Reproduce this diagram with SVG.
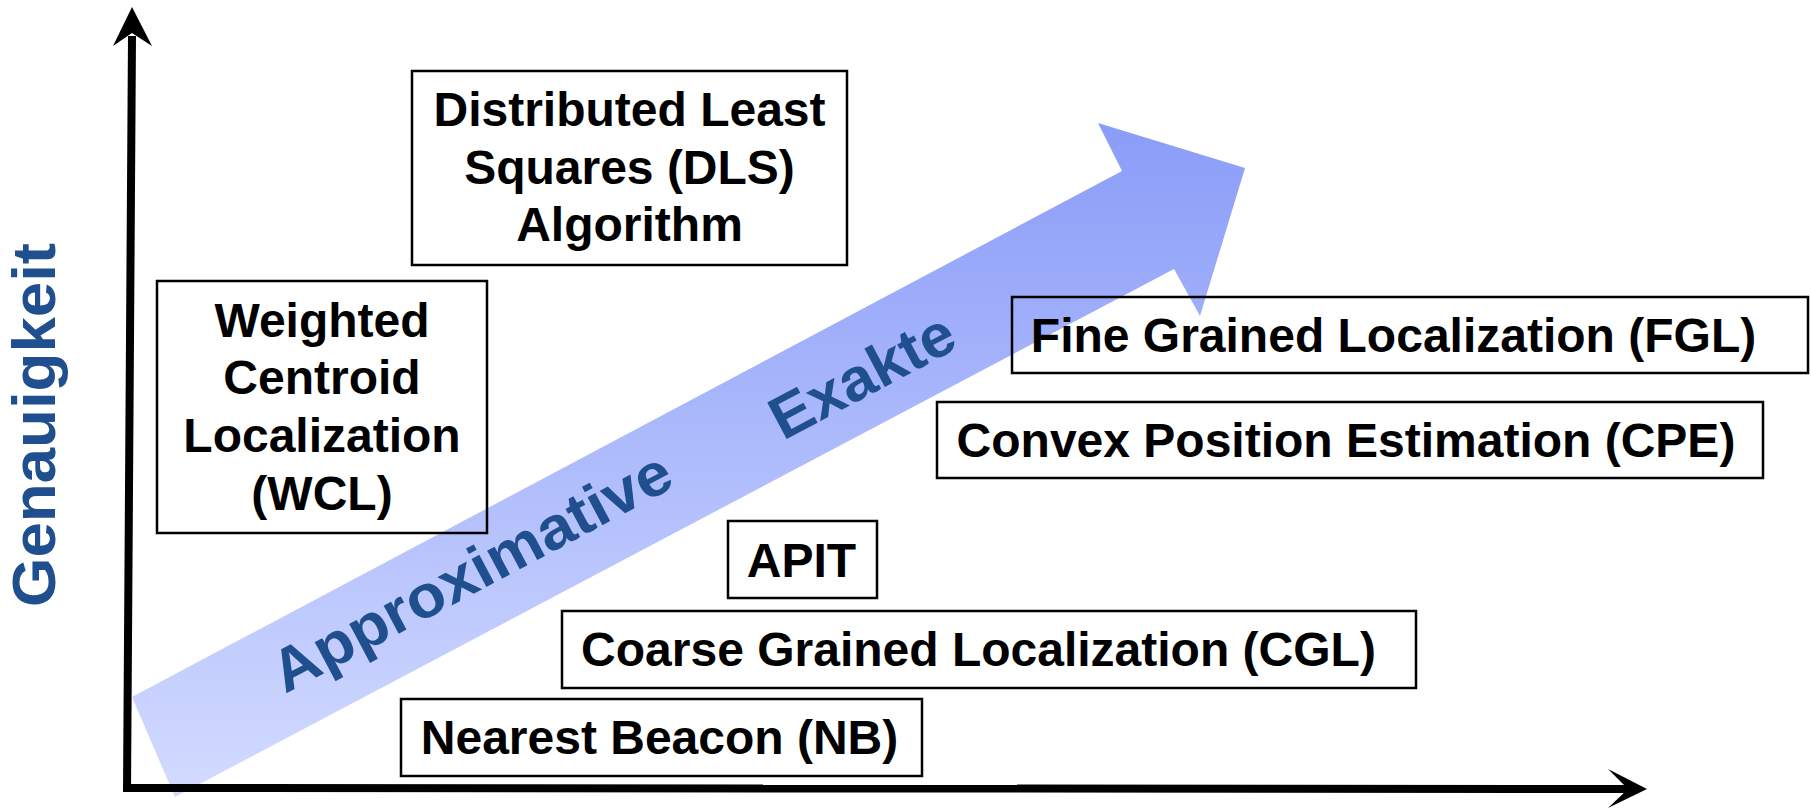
<svg xmlns="http://www.w3.org/2000/svg" width="1811" height="809" viewBox="0 0 1811 809">
  <defs>
    <linearGradient id="arrowGrad" gradientUnits="userSpaceOnUse" x1="0" y1="123" x2="0" y2="797">
      <stop offset="0" stop-color="#8a9cf8"/>
      <stop offset="1" stop-color="#d3dbff"/>
    </linearGradient>
    <style>
      .box { fill: none; stroke: #000; stroke-width: 2.5; }
      .lbl { font-family: "Liberation Sans", Arial, sans-serif; font-weight: bold; font-size: 48px; fill: #000; text-anchor: middle; }
      .blue { font-family: "Liberation Sans", Arial, sans-serif; font-weight: bold; font-size: 60px; fill: #1f4f8f; }
      .axis { stroke: #000; stroke-width: 8; fill: none; }
    </style>
  </defs>
  <rect width="1811" height="809" fill="#fff"/>

  <!-- big gradient arrow -->
  <g id="trend-arrow">
    <polygon points="132,697 1122,171 1098,123 1245,168 1200,316 1174,269 175,797" fill="url(#arrowGrad)"/>
    <text class="blue" transform="translate(285,694) rotate(-28)" textLength="444" lengthAdjust="spacingAndGlyphs">Approximative</text>
    <text class="blue" transform="translate(783,441) rotate(-28)" textLength="201" lengthAdjust="spacingAndGlyphs">Exakte</text>
  </g>

  <!-- axes -->
  <g id="connectors">
    <line class="axis" x1="127" y1="792" x2="132" y2="36"/>
    <polygon points="132,7 152,46 132,33 113,46" fill="#000"/>
    <line class="axis" x1="123" y1="788" x2="1630" y2="789"/>
    <polygon points="1647,789 1608,808 1628,789 1608,769" fill="#000"/>
  </g>

  <g id="y-label">
    <text class="blue" style="font-size:62px" transform="translate(55,425) rotate(-90)" text-anchor="middle" textLength="364" lengthAdjust="spacingAndGlyphs">Genauigkeit</text>
  </g>

  <g id="dls">
    <rect class="box" x="412" y="71" width="435" height="194"/>
    <text class="lbl" x="629.5" y="126">Distributed Least</text>
    <text class="lbl" x="629.5" y="184">Squares (DLS)</text>
    <text class="lbl" x="629.5" y="241">Algorithm</text>
  </g>

  <g id="wcl">
    <rect class="box" x="157" y="281" width="330" height="252"/>
    <text class="lbl" x="322" y="337">Weighted</text>
    <text class="lbl" x="322" y="394">Centroid</text>
    <text class="lbl" x="322" y="452">Localization</text>
    <text class="lbl" x="322" y="510">(WCL)</text>
  </g>

  <g id="fgl">
    <rect class="box" x="1012" y="297" width="796" height="76"/>
    <text class="lbl" x="1393.5" y="352">Fine Grained Localization (FGL)</text>
  </g>

  <g id="cpe">
    <rect class="box" x="937" y="402" width="826" height="76"/>
    <text class="lbl" x="1346" y="457">Convex Position Estimation (CPE)</text>
  </g>

  <g id="apit">
    <rect class="box" x="728" y="521" width="149" height="77"/>
    <text class="lbl" x="801.5" y="577">APIT</text>
  </g>

  <g id="cgl">
    <rect class="box" x="562" y="611" width="854" height="77"/>
    <text class="lbl" x="978.5" y="666">Coarse Grained Localization (CGL)</text>
  </g>

  <g id="nb">
    <rect class="box" x="401" y="699" width="521" height="77"/>
    <text class="lbl" x="659.5" y="754">Nearest Beacon (NB)</text>
  </g>
</svg>
